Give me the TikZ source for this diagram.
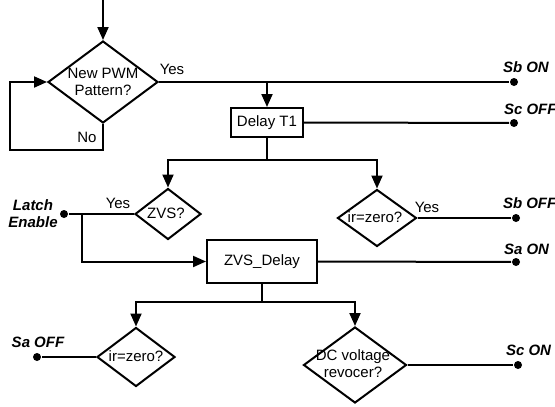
\documentclass[tikz,border=0pt]{standalone}
\usepackage{fontspec}
\setmainfont{Liberation Sans}
\usetikzlibrary{shapes.geometric,arrows.meta}
\begin{document}
\begin{tikzpicture}[x=1pt,y=-1pt,line width=2pt,
  every node/.style={font=\fontsize{15}{17}\selectfont},
  arr/.style={-{Triangle[length=13pt,width=11pt]}},
  dia/.style args={#1x#2}{diamond,draw,inner sep=0pt,minimum width=#1,minimum height=#2},
  stepbox/.style args={#1x#2}{rectangle,draw,inner sep=0pt,minimum width=#1,minimum height=#2},
  dot/.style={circle,fill,inner sep=0pt,minimum size=8pt},
  lbl/.style={font=\fontsize{15}{17}\selectfont\bfseries\itshape,inner sep=0pt},
  txt/.style={inner sep=0pt,align=center}]
\useasboundingbox (0,0) rectangle (555,407);

% shapes
\node[dia=110ptx82pt] (d1) at (103,82) {};
\node[txt] (d1t) at (103,82) {New PWM\\Pattern?};
\node[stepbox=72ptx29pt] (t1) at (267,122.5) {Delay T1};
\node[dia=66ptx51pt] (zvs) at (168,214) {};
\node[txt] (zvst) at (166,213) {ZVS?};
\node[dia=79ptx57pt] (ir1) at (377,218) {};
\node[txt] (ir1t) at (375,217) {ir=zero?};
\node[stepbox=110ptx43pt] (zd) at (262,261.5) {ZVS\_Delay};
\node[dia=78ptx59pt] (ir2) at (136,357) {};
\node[txt] (ir2t) at (136,356) {ir=zero?};
\node[dia=103ptx76pt] (dc) at (355,365) {};
\node[txt] (dct) at (353,364) {DC voltage\\revocer?};

% dots
\node[dot] (dSbON) at (514,82) {};
\node[dot] (dScOFF) at (514,123) {};
\node[dot] (dSbOFF) at (516,218) {};
\node[dot] (dSaON) at (516,262) {};
\node[dot] (dScON) at (518,365) {};
\node[dot] (dLE) at (64,214) {};
\node[dot] (dSaOFF) at (37,357) {};

% labels
\node[lbl,anchor=west] (lSbON) at (502,67) {Sb ON};
\node[lbl,anchor=west] (lScOFF) at (503,109) {Sc OFF};
\node[lbl,anchor=west] (lSbOFF) at (502,203) {Sb OFF};
\node[lbl,anchor=west] (lSaON) at (503,249) {Sa ON};
\node[lbl,anchor=west] (lScON) at (505,350) {Sc ON};
\node[lbl,align=center] (lLE) at (33,214) {Latch\\Enable};
\node[lbl] (lSaOFF) at (38,342) {Sa OFF};
\node[txt] (y1) at (172,69) {Yes};
\node[txt] (n1) at (87,137) {No};
\node[txt] (y2) at (118,203) {Yes};
\node[txt] (y3) at (427,207) {Yes};

% coordinates
\coordinate (top) at (103,0);
\coordinate (lp) at (10,150);
\coordinate (j1) at (267,160);
\coordinate (j2) at (82,214);
\coordinate (j3) at (262,302);

% connectors
\draw[arr] (top) -- (d1.north);
\draw[arr] (d1.south) |- (lp) |- (d1.west);
\draw (d1.east) -- (dSbON);
\draw[arr] (t1.north |- d1.east) -- (t1.north);
\draw (t1.east) -- (dScOFF);
\draw (t1.south) -- (j1);
\draw[arr] (j1) -| (zvs.north);
\draw[arr] (j1) -| (ir1.north);
\draw (dLE) -- (zvs.west);
\draw[arr] (j2) |- (zd.west);
\draw (ir1.east) -- (dSbOFF);
\draw (zd.east) -- (dSaON);
\draw (zd.south) -- (j3);
\draw[arr] (j3) -| (ir2.north);
\draw[arr] (j3) -| (dc.north);
\draw (ir2.west) -- (dSaOFF);
\draw (dc.east) -- (dScON);
\end{tikzpicture}
\end{document}
